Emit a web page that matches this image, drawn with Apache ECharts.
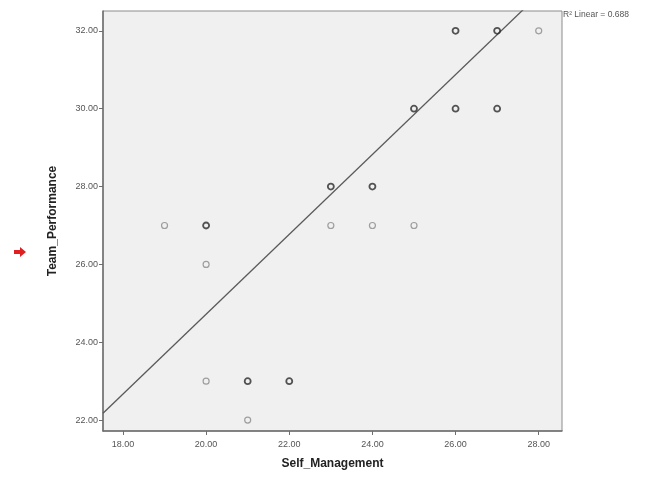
<!DOCTYPE html>
<html><head><meta charset="utf-8">
<script src="https://cdn.jsdelivr.net/npm/echarts@6/dist/echarts.min.js"></script>
<style>html,body{margin:0;padding:0;background:#fff}#c{width:645px;height:488px}</style>
</head><body><div id="c"></div>
<script>
// Data
const selfManagement = [19, 20, 20, 20, 21, 21, 22, 23, 23, 24, 24, 25, 25, 26, 26, 27, 27, 28];
const teamPerformance = [27, 27, 26, 23, 23, 22, 23, 28, 27, 28, 27, 30, 27, 32, 30, 32, 30, 32];
const overlapCount =    [1, 2, 1, 1, 2, 1, 2, 2, 1, 2, 1, 2, 1, 2, 2, 2, 2, 1];
const xTicks = [18, 20, 22, 24, 26, 28];
const yTicks = [22, 24, 26, 28, 30, 32];
const fitIntercept = 4.20;
const fitSlope = 1.026;
const fitLabel = 'R\u00b2 Linear = 0.688';

const xMin = 17.52, xMax = 28.56, yMin = 21.72, yMax = 32.51;
const pts = selfManagement.map((x, i) => ({
  value: [x, teamPerformance[i], overlapCount[i]],
  itemStyle: { borderColor: overlapCount[i] > 1 ? '#2a2a2a' : '#8a8a8a', borderWidth: overlapCount[i] > 1 ? 1.8 : 1.2 }
}));
const fitLine = [[xMin, fitIntercept + fitSlope * xMin], [xMax, fitIntercept + fitSlope * xMax]];

const chart = echarts.init(document.getElementById('c'));
const tickLabel = { fontFamily: 'Liberation Sans', fontSize: 9, color: '#555' };
chart.setOption({
  animation: false,
  backgroundColor: '#fff',
  grid: { left: 103, right: 83, top: 11, bottom: 57, show: true, backgroundColor: '#f0f0f0', borderColor: '#8c8c8c', borderWidth: 1 },
  xAxis: {
    type: 'value', min: xMin, max: xMax,
    splitLine: { show: false },
    axisLine: { show: true, onZero: false, lineStyle: { color: '#6e6e6e', width: 1.5 } },
    axisTick: { show: true, length: 4, customValues: xTicks, lineStyle: { color: '#6e6e6e' } },
    axisLabel: Object.assign({ customValues: xTicks, margin: 9, formatter: v => v.toFixed(2) }, tickLabel),
    name: 'Self_Management', nameLocation: 'middle', nameGap: 27,
    nameTextStyle: { fontFamily: 'Liberation Sans', fontSize: 12, fontWeight: 'bold', color: '#222' }
  },
  yAxis: {
    type: 'value', min: yMin, max: yMax,
    splitLine: { show: false },
    axisLine: { show: true, onZero: false, lineStyle: { color: '#6e6e6e', width: 1.5 } },
    axisTick: { show: true, length: 4, customValues: yTicks, lineStyle: { color: '#6e6e6e' } },
    axisLabel: Object.assign({ customValues: yTicks, margin: 5, formatter: v => v.toFixed(2) }, tickLabel),
    name: 'Team_Performance', nameLocation: 'middle', nameGap: 44, nameRotate: 90,
    nameTextStyle: { fontFamily: 'Liberation Sans', fontSize: 12, fontWeight: 'bold', color: '#222' }
  },
  series: [
    {
      type: 'line', data: fitLine, symbol: 'none', clip: true, silent: true,
      lineStyle: { color: '#5a5a5a', width: 1.3 }, z: 2
    },
    {
      type: 'scatter', data: pts, symbol: 'circle', symbolSize: 6,
      itemStyle: { color: 'rgba(0,0,0,0)' }, z: 3
    }
  ],
  graphic: [
    { type: 'text', left: 563, top: 10, style: { text: fitLabel, fontFamily: 'Liberation Sans', fontSize: 8.5, fill: '#555' } },
    { type: 'polygon', shape: { points: [[14, 250], [20, 250], [20, 247], [26, 252], [20, 257], [20, 254], [14, 254]] }, style: { fill: '#e02020' } }
  ]
});
</script></body></html>
